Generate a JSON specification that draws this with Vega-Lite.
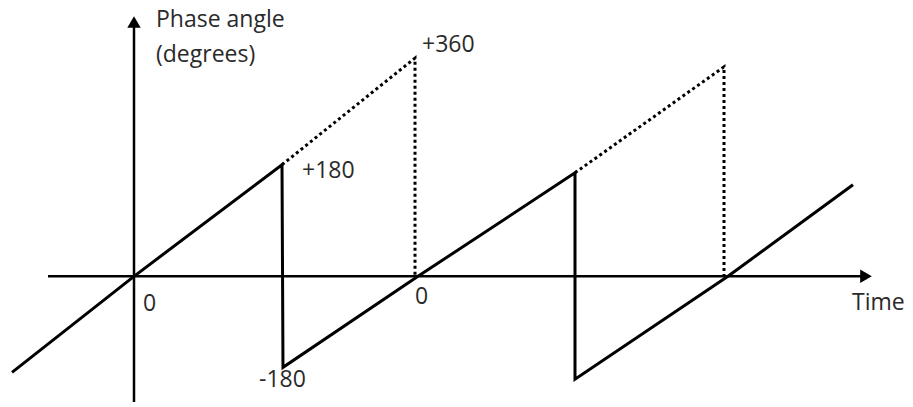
{
  "$schema": "https://vega.github.io/schema/vega-lite/v6.json",
  "width": 913,
  "height": 407,
  "autosize": {"type": "fit", "contains": "padding"},
  "padding": 0,
  "background": "white",
  "config": {"view": {"stroke": null}},
  "datasets": {
    "axes": [
      {"g": "time", "o": 1, "t": -0.86, "deg": 0},
      {"g": "time", "o": 2, "t": 7.3, "deg": 0},
      {"g": "phase", "o": 1, "t": 0, "deg": -201.6},
      {"g": "phase", "o": 2, "t": 0, "deg": 405}
    ],
    "heads": [
      {"shape": "triangle-right", "t": 7.32, "deg": 0},
      {"shape": "triangle-up", "t": 0, "deg": 408}
    ],
    "wave": [
      {"o": 1, "t": -1.22, "deg": -154},
      {"o": 2, "t": 0, "deg": 0},
      {"o": 3, "t": 1.48, "deg": 179},
      {"o": 4, "t": 1.49, "deg": -146},
      {"o": 5, "t": 2.84, "deg": 0},
      {"o": 6, "t": 4.41, "deg": 166},
      {"o": 7, "t": 4.41, "deg": -165},
      {"o": 8, "t": 5.94, "deg": 0},
      {"o": 9, "t": 7.19, "deg": 147}
    ],
    "dotted": [
      {"g": "a", "o": 1, "t": 1.48, "deg": 179},
      {"g": "a", "o": 2, "t": 2.81, "deg": 350},
      {"g": "a", "o": 3, "t": 2.81, "deg": 0},
      {"g": "b", "o": 1, "t": 4.41, "deg": 166},
      {"g": "b", "o": 2, "t": 5.9, "deg": 336},
      {"g": "b", "o": 3, "t": 5.9, "deg": 0}
    ],
    "labels": [
      {"text": "Phase angle", "t": 0.22, "deg": 400},
      {"text": "(degrees)", "t": 0.22, "deg": 344},
      {"text": "+360", "t": 2.88, "deg": 360},
      {"text": "+180", "t": 1.68, "deg": 158.4},
      {"text": "0", "t": 0.09, "deg": -56},
      {"text": "0", "t": 2.81, "deg": -44.8},
      {"text": "-180", "t": 1.25, "deg": -177.6},
      {"text": "Time", "t": 7.18, "deg": -54.4}
    ]
  },
  "encoding": {
    "x": {"field": "t", "type": "quantitative", "scale": {"domain": [-1.34, 7.79], "nice": false, "zero": false}, "axis": null},
    "y": {"field": "deg", "type": "quantitative", "scale": {"domain": [-208, 443.2], "nice": false, "zero": false}, "axis": null}
  },
  "layer": [
    {
      "data": {"name": "axes"},
      "mark": {"type": "line", "color": "black", "strokeWidth": 2.5, "strokeCap": "butt"},
      "encoding": {"detail": {"field": "g"}, "order": {"field": "o"}}
    },
    {
      "data": {"name": "heads"},
      "mark": {"type": "point", "filled": true, "color": "black", "opacity": 1, "size": 180},
      "encoding": {"shape": {"field": "shape", "type": "nominal", "scale": null, "legend": null}}
    },
    {
      "data": {"name": "wave"},
      "mark": {"type": "line", "color": "black", "strokeWidth": 3, "strokeJoin": "miter"},
      "encoding": {"order": {"field": "o"}}
    },
    {
      "data": {"name": "dotted"},
      "mark": {"type": "line", "color": "black", "strokeWidth": 3, "strokeDash": [3, 3], "strokeCap": "butt"},
      "encoding": {"detail": {"field": "g"}, "order": {"field": "o"}}
    },
    {
      "data": {"name": "labels"},
      "mark": {"type": "text", "align": "left", "baseline": "alphabetic", "font": "Open Sans", "fontSize": 23, "color": "#2a2a2a"},
      "encoding": {"text": {"field": "text"}}
    }
  ]
}
